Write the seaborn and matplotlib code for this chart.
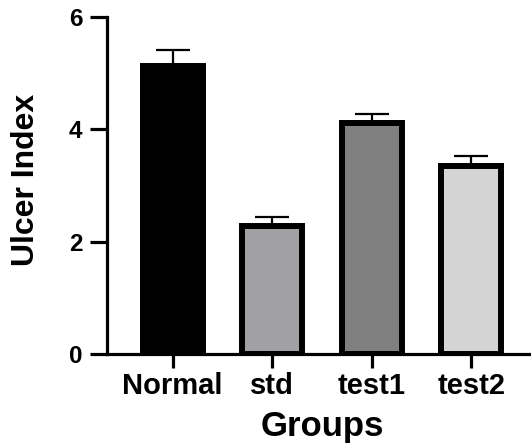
import numpy as np
import pandas as pd
import matplotlib
matplotlib.use("Agg")
import matplotlib.pyplot as plt
import seaborn as sns

# values
groups = ["Normal", "std", "test1", "test2"]
means = [5.12, 2.27, 4.12, 3.35]
sem = [0.30, 0.17, 0.15, 0.17]
bar_colors = ["#000000", "#a1a1a5", "#808080", "#d4d4d4"]
yticks = [0, 2, 4, 6]

df = pd.DataFrame({"Groups": groups, "Ulcer Index": means})

sns.set_style("ticks")
plt.rcParams["font.family"] = ["Liberation Sans", "DejaVu Sans"]
plt.rcParams["font.weight"] = "bold"
for k in ["text.color", "axes.labelcolor", "axes.edgecolor", "xtick.color", "ytick.color"]:
    plt.rcParams[k] = "black"

fig = plt.figure(figsize=(5.31, 4.45), dpi=100)
ax = fig.add_axes([0.2015, 0.2045, 0.7965, 0.7573])

sns.barplot(data=df, x="Groups", y="Ulcer Index", hue="Groups",
            palette=bar_colors, width=0.6, edgecolor="black",
            linewidth=4.3, legend=False, ax=ax, zorder=2)

# upper-only error bars (SEM)
ax.errorbar(np.arange(len(groups)), means,
            yerr=[np.zeros(len(groups)), sem],
            fmt="none", ecolor="black", elinewidth=1.6,
            capsize=11.9, capthick=1.6, zorder=1)

ax.set_ylim(0, 6)
ax.set_xlim(-0.66, 3.59)
ax.set_yticks(yticks)
ax.set_yticklabels([str(t) for t in yticks])

sns.despine(ax=ax)
for s in ["left", "bottom"]:
    ax.spines[s].set_linewidth(2.3)
    ax.spines[s].set_color("black")

ax.tick_params(axis="y", length=12.2, width=2.3, pad=5.5, labelsize=17.5, colors="black")
ax.tick_params(axis="x", length=10, width=2.3, pad=3, labelsize=21, colors="black")
for lab in ax.get_xticklabels() + ax.get_yticklabels():
    lab.set_fontweight("bold")

ax.set_xlabel("Groups", fontsize=25, fontweight="bold")
ax.set_ylabel("Ulcer Index", fontsize=23, fontweight="bold")
ax.xaxis.set_label_coords(0.508, -0.165)
ax.yaxis.set_label_coords(-0.155, 0.516)

fig.savefig("out.png", dpi=100)
